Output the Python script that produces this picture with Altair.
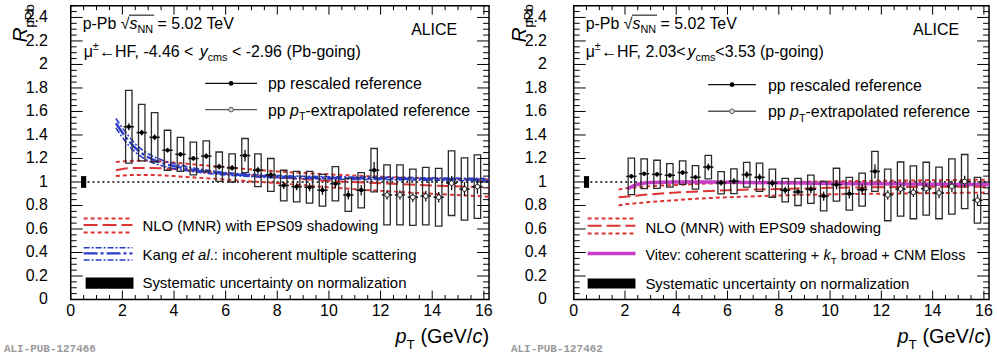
import altair as alt
import pandas as pd

FONT = "Liberation Sans"
MONO = "Liberation Mono"

# ---------------- data ----------------
PT = [2.25, 2.75, 3.25, 3.75, 4.25, 4.75, 5.25, 5.75, 6.25, 6.75,
      7.25, 7.75, 8.25, 8.75, 9.25, 9.75, 10.25, 10.75, 11.25, 11.75,
      12.25, 12.75, 13.25, 13.75, 14.25, 14.75, 15.25, 15.75]
REF = ["rescaled"] * 20 + ["extrapolated"] * 8

# Pb-going (-4.46 < y_cms < -2.96)
L_R = [1.47, 1.42, 1.38, 1.27, 1.235, 1.20, 1.22, 1.13, 1.12, 1.225,
       1.10, 1.06, 0.97, 0.96, 0.955, 0.93, 0.985, 0.89, 0.93, 1.10,
       0.89, 0.89, 0.87, 0.88, 0.87, 0.99, 0.94, 0.96]
L_SYS = [0.31, 0.24, 0.21, 0.17, 0.145, 0.14, 0.13, 0.125, 0.12, 0.145,
         0.14, 0.14, 0.13, 0.13, 0.135, 0.135, 0.145, 0.14, 0.15, 0.185,
         0.255, 0.255, 0.24, 0.245, 0.245, 0.275, 0.265, 0.27]
L_STAT = [0.03, 0.025, 0.025, 0.02, 0.02, 0.02, 0.025, 0.025, 0.025, 0.05,
          0.03, 0.03, 0.03, 0.03, 0.035, 0.04, 0.04, 0.04, 0.045, 0.07,
          0.04, 0.04, 0.04, 0.045, 0.045, 0.06, 0.06, 0.06]

# p-going (2.03 < y_cms < 3.53)
R_R = [1.048, 1.07, 1.065, 1.057, 1.08, 1.04, 1.127, 0.994, 1.006, 1.062,
       1.04, 0.99, 0.93, 0.915, 0.938, 0.88, 0.977, 0.90, 0.935, 1.09,
       0.89, 0.94, 0.912, 0.943, 0.907, 0.962, 1.004, 0.845]
R_SYS = [0.155, 0.127, 0.12, 0.10, 0.10, 0.10, 0.10, 0.095, 0.105, 0.105,
         0.12, 0.12, 0.10, 0.115, 0.12, 0.125, 0.14, 0.14, 0.14, 0.17,
         0.22, 0.23, 0.225, 0.225, 0.22, 0.235, 0.23, 0.195]
R_STAT = [0.02, 0.02, 0.02, 0.02, 0.02, 0.02, 0.03, 0.025, 0.025, 0.03,
          0.03, 0.03, 0.03, 0.03, 0.035, 0.04, 0.04, 0.04, 0.045, 0.06,
          0.04, 0.04, 0.04, 0.045, 0.045, 0.05, 0.05, 0.05]

# NLO (MNR) + EPS09, Pb-going
NLO_L_PT = [1.75, 2.0, 2.5, 3.0, 4.0, 5.0, 6.0, 8.0, 10.0, 12.0, 14.0, 16.2]
NLO_L_UP = [1.17, 1.175, 1.18, 1.18, 1.165, 1.145, 1.125, 1.09, 1.065, 1.045, 1.03, 1.02]
NLO_L_C = [1.10, 1.11, 1.12, 1.12, 1.11, 1.09, 1.07, 1.04, 1.01, 0.99, 0.97, 0.955]
NLO_L_LO = [1.05, 1.055, 1.06, 1.06, 1.05, 1.035, 1.02, 0.99, 0.955, 0.925, 0.90, 0.875]

# Kang et al., Pb-going
KANG_PT = [1.75, 2.0, 2.25, 2.5, 3.0, 3.5, 4.0, 5.0, 6.0, 7.0, 8.0, 10.0, 12.0, 14.0, 16.2]
KANG_C = [1.50, 1.42, 1.35, 1.29, 1.21, 1.165, 1.135, 1.095, 1.07, 1.055, 1.045, 1.035, 1.03, 1.025, 1.02]
KANG_UP = [1.54, 1.46, 1.39, 1.325, 1.24, 1.19, 1.155, 1.11, 1.08, 1.065, 1.055, 1.045, 1.04, 1.035, 1.03]
KANG_LO = [1.46, 1.38, 1.31, 1.255, 1.18, 1.14, 1.115, 1.08, 1.06, 1.045, 1.035, 1.025, 1.02, 1.015, 1.01]

# NLO (MNR) + EPS09, p-going
NLO_R_PT = [1.75, 2.0, 2.5, 3.0, 4.0, 5.0, 6.0, 8.0, 10.0, 12.0, 14.0, 16.2]
NLO_R_UP = [0.935, 0.945, 0.955, 0.965, 0.975, 0.985, 0.99, 1.0, 1.005, 1.01, 1.015, 1.02]
NLO_R_C = [0.87, 0.875, 0.885, 0.895, 0.91, 0.92, 0.93, 0.94, 0.95, 0.955, 0.96, 0.96]
NLO_R_LO = [0.80, 0.81, 0.82, 0.83, 0.845, 0.86, 0.87, 0.885, 0.895, 0.90, 0.905, 0.91]

# Vitev, p-going
VIT_PT = [2.1, 2.3, 2.6, 3.0, 4.0, 6.0, 8.0, 10.0, 12.0, 14.0, 16.2]
VIT_R = [0.94, 0.965, 0.985, 0.995, 1.0, 0.998, 0.993, 0.988, 0.984, 0.981, 0.978]

NORM_PT = 0.5
NORM_UNC = 0.05
UNITY_FROM = 0.65

X_LABELS = [0, 2, 4, 6, 8, 10, 12, 14, 16]
Y_LABELS = [0, 0.2, 0.4, 0.6, 0.8, 1, 1.2, 1.4, 1.6, 1.8, 2, 2.2, 2.4]
X_MINOR = [0.5 * i for i in range(33) if i % 4]
Y_MINOR = [round(0.05 * i, 2) for i in range(51) if i % 4]

# ---------------- style ----------------
RED = "#dd3333"
BLUE = "#2a3ccc"
MAG = "#c83cc8"
BOX_HW = 0.125
BAR_HW = 0.2
H = 295

CW = {' ': 278, '!': 278, '(': 333, ')': 333, '+': 584, ',': 278, '-': 333, '.': 278,
      '/': 278, ':': 278, '<': 584, '=': 584, '>': 584, '±': 584, 'μ': 576,
      '←': 1000, '√': 549}
CW.update(dict(A=667, B=667, C=722, D=722, E=667, F=611, G=778, H=722, I=278, J=500,
               K=667, L=556, M=833, N=722, O=778, P=667, Q=778, R=722, S=667, T=611,
               U=722, V=667, W=944, X=667, Y=667, Z=611))
CW.update(dict(a=556, b=556, c=500, d=556, e=556, f=278, g=556, h=556, i=222, j=222,
               k=500, l=222, m=833, n=556, o=556, p=556, q=556, r=333, s=500, t=278,
               u=556, v=500, w=722, x=500, y=500, z=500))


def tw(s, size):
    return sum(CW.get(ch, 556) for ch in s) * size / 1000.0


ONE = pd.DataFrame({"k": [0]})


def T(s, x, y, size=16, style="normal", align="left", baseline="alphabetic",
      angle=None, color="black", font=FONT, weight="normal"):
    kw = dict(text=s, align=align, baseline=baseline, fontSize=size,
              fontStyle=style, font=font, color=color, fontWeight=weight)
    if angle is not None:
        kw["angle"] = angle
    return alt.Chart(ONE).mark_text(**kw).encode(x=alt.value(x), y=alt.value(y))


def rich(segs, x, y, base=16.0):
    out, starts = [], []
    cx = x
    for s, kind in segs:
        size = base * 0.68 if kind in ("sub", "sup") else base
        style = "italic" if kind == "i" else "normal"
        dy = base * 0.27 if kind == "sub" else (-base * 0.42 if kind == "sup" else 0)
        lead = len(s) - len(s.lstrip(" "))
        sx = cx + tw(" " * lead, size)
        core = s.strip(" ")
        starts.append(sx)
        out.append(T(core, sx, y + dy, size, style))
        cx += tw(s, size)
    return out, starts, cx


def hrule(x0, x1, y, color="black", width=1.3, dash=None):
    kw = dict(color=color, strokeWidth=width)
    if dash:
        kw["strokeDash"] = dash
    return alt.Chart(ONE).mark_rule(**kw).encode(
        x=alt.value(x0), x2=alt.value(x1), y=alt.value(y))


def panel(side):
    left = side == "L"
    W = 420 if left else 417
    XMAX = 16.2
    xs = alt.Scale(domain=[0, XMAX], nice=False, zero=False)
    ys = alt.Scale(domain=[0, 2.5], nice=False, zero=False)
    X = lambda f: alt.X(f, scale=xs, axis=None)
    Y = lambda f: alt.Y(f, scale=ys, axis=None)

    layers = []
    unity = pd.DataFrame({"x0": [UNITY_FROM], "x1": [XMAX], "y": [1.0]})
    layers.append(alt.Chart(unity).mark_rule(color="black", strokeDash=[2, 3], strokeWidth=1.6).encode(
        x=X("x0:Q"), x2="x1", y=Y("y:Q")))

    norm = pd.DataFrame({"a": [NORM_PT - 0.1], "b": [NORM_PT + 0.1],
                         "lo": [1 - NORM_UNC], "hi": [1 + NORM_UNC]})
    layers.append(alt.Chart(norm).mark_rect(color="black").encode(
        x=X("a:Q"), x2="b", y=Y("lo:Q"), y2="hi"))

    def line(xv, yv, color, width, dash=None):
        d = pd.DataFrame({"pt": xv, "r": yv})
        kw = dict(color=color, strokeWidth=width, interpolate="monotone")
        if dash:
            kw["strokeDash"] = dash
        return alt.Chart(d).mark_line(**kw).encode(x=X("pt:Q"), y=Y("r:Q"))

    if left:
        layers += [line(NLO_L_PT, NLO_L_UP, RED, 2, [4, 3]),
                   line(NLO_L_PT, NLO_L_C, RED, 2, [12, 5]),
                   line(NLO_L_PT, NLO_L_LO, RED, 2, [4, 3]),
                   line(KANG_PT, KANG_UP, BLUE, 1.6, [6, 2, 2, 2]),
                   line(KANG_PT, KANG_LO, BLUE, 1.6, [6, 2, 2, 2]),
                   line(KANG_PT, KANG_C, BLUE, 2.4, [14, 3, 3, 3])]
    else:
        layers += [line(NLO_R_PT, NLO_R_UP, RED, 2, [4, 3]),
                   line(NLO_R_PT, NLO_R_C, RED, 2, [12, 5]),
                   line(NLO_R_PT, NLO_R_LO, RED, 2, [4, 3]),
                   line(VIT_PT, VIT_R, MAG, 3.5)]

    R = L_R if left else R_R
    S = L_SYS if left else R_SYS
    E = L_STAT if left else R_STAT
    df = pd.DataFrame({"pt": PT, "r": R, "sys": S, "stat": E, "ref": REF})
    df["b0"] = df.pt - BOX_HW
    df["b1"] = df.pt + BOX_HW
    df["s0"] = df.r - df.sys
    df["s1"] = df.r + df.sys
    df["e0"] = df.r - df.stat
    df["e1"] = df.r + df.stat
    df["h0"] = df.pt - BAR_HW
    df["h1"] = df.pt + BAR_HW
    base = alt.Chart(df)
    layers.append(base.mark_rect(fillOpacity=0, stroke="#2a2a2a", strokeWidth=1.3).encode(
        x=X("b0:Q"), x2="b1", y=Y("s0:Q"), y2="s1"))
    layers.append(base.mark_rule(color="#111", strokeWidth=1.3).encode(
        x=X("pt:Q"), y=Y("e0:Q"), y2="e1"))
    layers.append(base.mark_rule(color="#111", strokeWidth=1.5).encode(
        x=X("h0:Q"), x2="h1", y=Y("r:Q")))
    layers.append(base.transform_filter(alt.datum.ref == "rescaled").mark_circle(
        color="black", size=18, opacity=1).encode(x=X("pt:Q"), y=Y("r:Q")))
    layers.append(base.transform_filter(alt.datum.ref == "extrapolated").mark_circle(
        fill="white", stroke="#222", strokeWidth=1, size=22, opacity=1).encode(x=X("pt:Q"), y=Y("r:Q")))

    # ROOT-style inner ticks on all four sides
    for vals, L in ((X_LABELS, 9), (X_MINOR, 4.5)):
        d = alt.Chart(pd.DataFrame({"t": vals}))
        layers.append(d.mark_rule(color="black", strokeWidth=1).encode(
            x=X("t:Q"), y=alt.value(H), y2=alt.value(H - L)))
        layers.append(d.mark_rule(color="black", strokeWidth=1).encode(
            x=X("t:Q"), y=alt.value(0), y2=alt.value(L)))
    for vals, L in ((Y_LABELS, 12), (Y_MINOR, 6)):
        d = alt.Chart(pd.DataFrame({"t": vals}))
        layers.append(d.mark_rule(color="black", strokeWidth=1).encode(
            y=Y("t:Q"), x=alt.value(0), x2=alt.value(L)))
        layers.append(d.mark_rule(color="black", strokeWidth=1).encode(
            y=Y("t:Q"), x=alt.value(W), x2=alt.value(W - L)))

    # tick labels, placed through the scales
    xl = pd.DataFrame({"t": X_LABELS, "lab": [f"{v:g}" for v in X_LABELS]})
    layers.append(alt.Chart(xl).mark_text(font=FONT, fontSize=16, color="black",
                                          align="center", baseline="top").encode(
        x=X("t:Q"), y=alt.value(H + 4), text="lab:N"))
    yl = pd.DataFrame({"t": Y_LABELS, "lab": [f"{v:g}" for v in Y_LABELS]})
    layers.append(alt.Chart(yl).mark_text(font=FONT, fontSize=16, color="black",
                                          align="right", baseline="middle").encode(
        y=Y("t:Q"), x=alt.value(-23 if left else -27), text="lab:N"))

    # ---- header texts ----
    tx0 = 12
    l1, st, end = rich([("p-Pb ", "n"), ("√", "n"), ("s", "i"), ("NN", "sub"),
                        (" = 5.02 TeV", "n")], tx0, 23)
    layers += l1
    layers.append(hrule(st[2] - 0.5, st[3] + tw("NN", 16 * 0.68) + 1, 23 - 13.5,
                        width=1))
    layers.append(T("ALICE", 388 if left else 387, 29, align="right"))
    if left:
        l2, _, _ = rich([("μ", "n"), ("±", "sup"), ("←HF, -4.46 < ", "n"), ("y", "i"),
                         ("cms", "sub"), (" < -2.96 (Pb-going)", "n")], 13, 51.5)
    else:
        l2, _, _ = rich([("μ", "n"), ("±", "sup"), ("←HF, 2.03<", "n"), ("y", "i"),
                         ("cms", "sub"), ("<3.53 (p-going)", "n")], 12, 51.5)
    layers += l2

    # ---- upper legend ----
    if left:
        lx0, lx1, mx, r1, r2, tx = 135, 187, 161, 78, 104.3, 198
    else:
        lx0, lx1, mx, r1, r2, tx = 135, 183, 159, 79.3, 106, 195
    layers.append(hrule(lx0, lx1, r1, "#111", 1.4))
    layers.append(alt.Chart(ONE).mark_circle(color="black", size=22, opacity=1).encode(
        x=alt.value(mx), y=alt.value(r1)))
    layers.append(hrule(lx0, lx1, r2, "#555", 1.4))
    layers.append(alt.Chart(ONE).mark_circle(fill="#ddd", stroke="#555", strokeWidth=1,
                                            size=22, opacity=1).encode(
        x=alt.value(mx), y=alt.value(r2)))
    a, _, _ = rich([("pp rescaled reference", "n")], tx, r1 + 6)
    b, _, _ = rich([("pp ", "n"), ("p", "i"), ("T", "sub"), ("-extrapolated reference", "n")],
                   tx, r2 + 6)
    layers += a + b

    # ---- lower legend ----
    if left:
        sx0, sx1 = 13, 62
        layers += [hrule(sx0, sx1, 213.7, RED, 2, [4, 3]),
                   hrule(sx0, sx1, 220.3, RED, 2, [14, 5]),
                   hrule(sx0, sx1, 227.7, RED, 2, [4, 3]),
                   hrule(sx0, sx1, 243, BLUE, 1.6, [6, 2, 2, 2]),
                   hrule(sx0, sx1, 248.7, BLUE, 2.4, [14, 3, 3, 3]),
                   hrule(sx0, sx1, 255.3, BLUE, 1.6, [6, 2, 2, 2])]
        layers.append(alt.Chart(ONE).mark_rect(color="black").encode(
            x=alt.value(15), x2=alt.value(63), y=alt.value(273), y2=alt.value(284.3)))
        t1, _, _ = rich([("NLO (MNR) with EPS09 shadowing", "n")], 72, 226.4, 15)
        t2, _, _ = rich([("Kang ", "n"), ("et al", "i"),
                         (".: incoherent multiple scattering", "n")], 72, 255, 15)
        t3, _, _ = rich([("Systematic uncertainty on normalization", "n")], 72, 283.4, 15)
    else:
        sx0, sx1 = 14, 62
        layers += [hrule(sx0, sx1, 213.7, RED, 2, [4, 3]),
                   hrule(sx0, sx1, 221, RED, 2, [14, 5]),
                   hrule(sx0, sx1, 228.7, RED, 2, [4, 3]),
                   hrule(sx0, sx1, 248.7, MAG, 3.5)]
        layers.append(alt.Chart(ONE).mark_rect(color="black").encode(
            x=alt.value(14), x2=alt.value(62), y=alt.value(274), y2=alt.value(284)))
        t1, _, _ = rich([("NLO (MNR) with EPS09 shadowing", "n")], 72, 228, 15)
        t2, _, _ = rich([("Vitev: coherent scattering + ", "n"), ("k", "i"), ("T", "sub"),
                         (" broad + CNM Eloss", "n")], 72, 255.7, 14.4)
        t3, _, _ = rich([("Systematic uncertainty on normalization", "n")], 72, 284, 15)
    layers += t1 + t2 + t3

    # ---- axis titles ----
    ry = -44 if left else -48
    layers.append(T("R", ry, 37, 21, "italic", angle=270))
    layers.append(T("pPb", ry + 7, 37 - tw("R", 21), 13, angle=270))
    xsegs = [("p", "i"), ("T", "sub"), (" (GeV/", "n"), ("c", "i"), (")", "n")]
    total = tw("p", 20) + tw("T", 13.6) + tw(" (GeV/", 20) + tw("c", 20) + tw(")", 20)
    xe = W if left else W + 2
    xt, _, _ = rich(xsegs, xe - total, 339, 20)
    layers += xt
    layers.append(T("ALI-PUB-127466" if left else "ALI-PUB-127462",
                    -67 if left else -63, 345, 11, font=MONO, color="#9a9a9a",
                    baseline="middle", weight="bold"))

    return alt.layer(*layers).properties(width=W, height=H)


chart = alt.hconcat(panel("L"), panel("R"), spacing=85, bounds="flush").properties(
    padding={"left": 3, "top": 2, "right": 0, "bottom": 0},
    background="white",
).configure_view(stroke="black", strokeWidth=1.5)

chart.save("out.html", embed_options={"renderer": "svg", "actions": False})
